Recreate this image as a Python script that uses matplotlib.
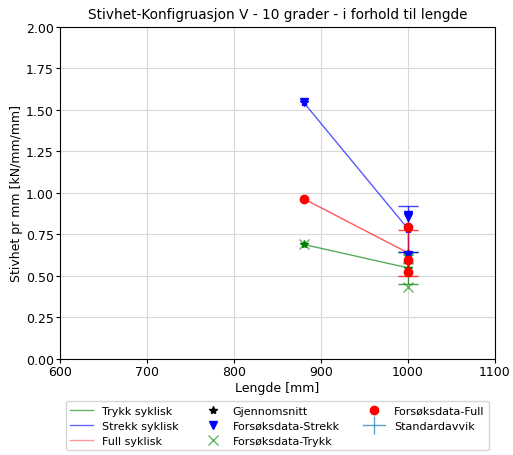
import matplotlib
matplotlib.use("Agg")
import matplotlib.pyplot as plt
from matplotlib.lines import Line2D
import numpy as np

# Lengths [mm]
lengths = [880, 1000]

# Stiffness per mm [kN/mm/mm] for each test series at 880 and 1000 mm
trykk_880 = [0.69]
trykk_1000 = [0.436, 0.60, 0.61]
strekk_880 = [1.545]
strekk_1000 = [0.87, 0.854, 0.625]
full_880 = [0.965]
full_1000 = [0.793, 0.598, 0.526]

fig = plt.figure(figsize=(5.13, 4.56), dpi=100)
ax = fig.add_axes([0.117, 0.2105, 0.848, 0.7285])

series = [
    ("Trykk syklisk", "g", trykk_880, trykk_1000),
    ("Strekk syklisk", "b", strekk_880, strekk_1000),
    ("Full syklisk", "r", full_880, full_1000),
]

# mean lines and mean markers
for label, c, d880, d1000 in series:
    means = [np.mean(d880), np.mean(d1000)]
    ax.plot(lengths, means, color=c, alpha=0.65, lw=1, zorder=2)
    ax.plot(lengths, means, "*", color=c, ms=6, zorder=2)

# error bars (sample std) at 1000 mm
for label, c, d880, d1000 in series:
    ax.errorbar(lengths[1], np.mean(d1000), yerr=np.std(d1000, ddof=1),
                color=c, alpha=0.75, capsize=7.5, lw=1, zorder=3)

def xs(a, b):
    return [lengths[0]] * len(a) + [lengths[1]] * len(b)

# individual test data
ax.plot(xs(strekk_880, strekk_1000), strekk_880 + strekk_1000, "v",
        color="b", ms=6, ls="none", zorder=4)
ax.plot(xs(trykk_880, trykk_1000), trykk_880 + trykk_1000, "x",
        color="g", alpha=0.6, ms=7, ls="none", zorder=4)
ax.plot(xs(full_880, full_1000), full_880 + full_1000, "o",
        color="r", ms=6, ls="none", zorder=5)

ax.set_xlim(600, 1100)
ax.set_ylim(0, 2.0)
ax.set_xticks(np.arange(600, 1101, 100))
ax.set_yticks(np.arange(0, 2.01, 0.25))
ax.yaxis.set_major_formatter(matplotlib.ticker.FormatStrFormatter("%.2f"))
ax.grid(True, color="#d8d8d8", lw=0.8)
ax.set_axisbelow(True)
ax.tick_params(labelsize=9, length=3, pad=1.5)
ax.set_title("Stivhet-Konfigruasjon V - 10 grader - i forhold til lengde", fontsize=9.8)
ax.set_xlabel("Lengde [mm]", fontsize=9, labelpad=2)
ax.set_ylabel("Stivhet pr mm [kN/mm/mm]", fontsize=9, labelpad=2)

handles = [
    Line2D([], [], color="g", alpha=0.6, lw=1),
    Line2D([], [], color="b", alpha=0.6, lw=1),
    Line2D([], [], color="r", alpha=0.4, lw=1),
    Line2D([], [], marker="*", color="k", ls="none", ms=6),
    Line2D([], [], marker="v", color="b", ls="none", ms=6),
    Line2D([], [], marker="x", color="g", alpha=0.6, ls="none", ms=7),
    Line2D([], [], marker="o", color="r", ls="none", ms=6),
    Line2D([], [], marker="|", color="tab:blue", alpha=0.7, lw=1, ms=13, markeredgewidth=1),
]
labels = ["Trykk syklisk", "Strekk syklisk", "Full syklisk", "Gjennomsnitt",
          "Forsøksdata-Strekk", "Forsøksdata-Trykk", "Forsøksdata-Full", "Standardavvik"]
ax.legend(handles, labels, loc="upper center", bbox_to_anchor=(0.5, -0.11),
          ncol=3, fontsize=8, frameon=True, handlelength=2.0,
          labelspacing=0.45, columnspacing=2.1, handletextpad=0.8)

fig.savefig("out.png", dpi=100)
